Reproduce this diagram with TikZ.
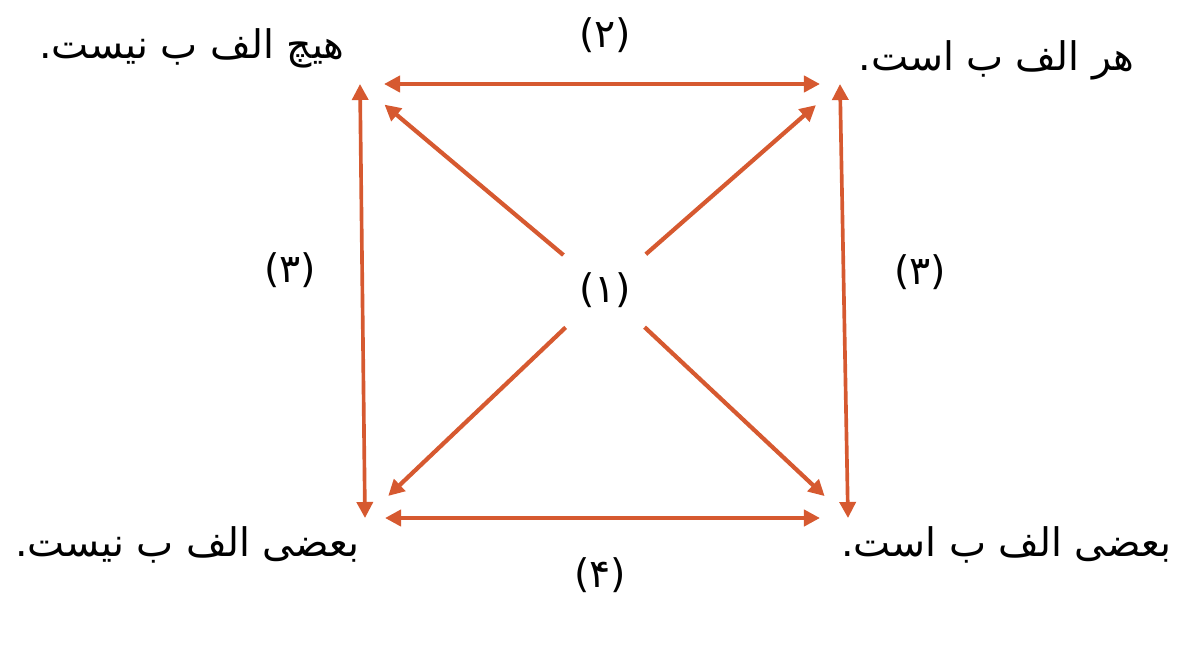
\documentclass[tikz,border=0pt]{standalone}
\usepackage{fontspec}
\usepackage{xcolor}
\usepackage{tikz}
\usetikzlibrary{arrows.meta,positioning,calc}
\TeXXeTstate=1
\newfontfamily\arabicfont[Script=Arabic]{DejaVu Sans}
\definecolor{squareorange}{RGB}{214, 89, 48}
\newcommand{\fa}[1]{\arabicfont\beginR #1\endR}

\begin{document}
\begin{tikzpicture}[x=0.025cm, y=-0.025cm, >={Triangle[length=0.4cm, width=0.4cm]}]
    \useasboundingbox (0,0) rectangle (1180,652);
    \tikzset{
        prop/.style={font=\fontsize{28}{32}\selectfont, inner sep=0pt},
        numlabel/.style={font=\fontsize{28}{32}\selectfont, inner sep=0pt},
        sideline/.style={<->, line width=3.5pt, squareorange},
        vertline/.style={<->, line width=2.6pt, squareorange},
        diagline/.style={->, line width=3pt, squareorange, shorten >=0.8cm}
    }
    % corners of the square
    \coordinate (cE) at (360,84);
    \coordinate (cA) at (840,84);
    \coordinate (cO) at (365,518);
    \coordinate (cI) at (848,518);

    \node [prop, anchor=east] (propE) at (345,48) {\fa{هیچ الف ب نیست.}};
    \node [prop, anchor=east] (propA) at (1135,60) {\fa{هر الف ب است.}};
    \node [prop, anchor=east] (propO) at (360,545) {\fa{بعضی الف ب نیست.}};
    \node [prop, anchor=east] (propI) at (1172,545) {\fa{بعضی الف ب است.}};

    \node [numlabel, circle, minimum size=2.7cm] (one) at (605,290) {\arabicfont(۱)};
    \node [numlabel] (two) at (605,35) {\arabicfont(۲)};
    \node [numlabel] (threeL) at (290,270) {\arabicfont(۳)};
    \node [numlabel] (threeR) at (920,272) {\arabicfont(۳)};
    \node [numlabel] (four) at (600,575) {\arabicfont(۴)};

    \draw [sideline, shorten <=0.6cm, shorten >=0.5cm] (cE) -- (cA);
    \draw [sideline, shorten <=0.5cm, shorten >=0.7cm] (cO) -- (cI);
    \draw [vertline] (cE) -- (cO);
    \draw [vertline] (cA) -- (cI);

    \draw [diagline] (one) -- (cE);
    \draw [diagline] (one) -- (cA);
    \draw [diagline] (one) -- (cO);
    \draw [diagline] (one) -- (cI);
\end{tikzpicture}
\end{document}
